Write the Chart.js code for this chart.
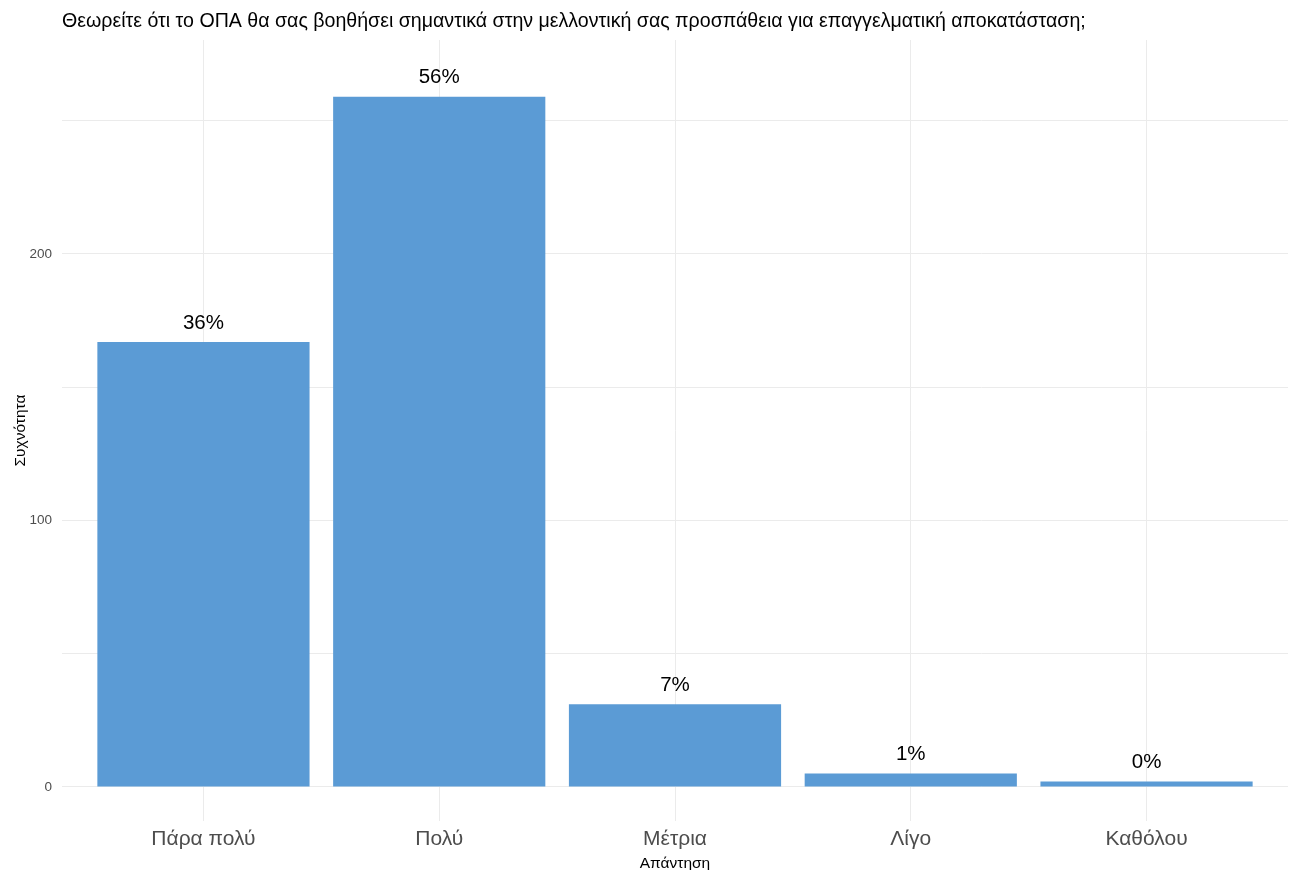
<!DOCTYPE html>
<html>
<head>
<meta charset="utf-8">
<script src="https://cdn.jsdelivr.net/npm/chart.js@4"></script>
<style>
  html, body { margin: 0; padding: 0; background: #ffffff; }
  #wrap { width: 1291px; height: 870px; }
</style>
</head>
<body>
<div id="wrap"><canvas id="c" width="1291" height="870"></canvas></div>
<script>
const titleText = "Θεωρείτε ότι το ΟΠΑ θα σας βοηθήσει σημαντικά στην μελλοντική σας προσπάθεια για επαγγελματική αποκατάσταση;";
const categories = ["Πάρα πολύ", "Πολύ", "Μέτρια", "Λίγο", "Καθόλου"];
const counts = [167, 259, 31, 5, 2];
const yTicks = [0, 50, 100, 150, 200, 250];
const yTickLabels = ["0", "", "100", "", "200", ""];
const xTitle = "Απάντηση";
const yTitle = "Συχνότητα";

const total = counts.reduce((a, b) => a + b, 0);
const FONT = "'Liberation Sans', Arial, sans-serif";

const titlePlugin = {
  id: 'ggTitle',
  afterDraw(chart) {
    const ctx = chart.ctx;
    ctx.save();
    ctx.font = "19.6px " + FONT;
    ctx.fillStyle = "#000000";
    ctx.textAlign = "left";
    ctx.textBaseline = "middle";
    ctx.fillText(titleText, chart.chartArea.left, 22);
    ctx.restore();
  }
};

const labelPlugin = {
  id: 'pctLabels',
  afterDatasetsDraw(chart) {
    const ctx = chart.ctx;
    const meta = chart.getDatasetMeta(0);
    ctx.save();
    ctx.font = "20.5px " + FONT;
    ctx.fillStyle = "#000000";
    ctx.textAlign = "center";
    ctx.textBaseline = "middle";
    meta.data.forEach((bar, i) => {
      const pct = Math.round(counts[i] / total * 100) + "%";
      ctx.fillText(pct, bar.x, bar.y - 19);
    });
    ctx.restore();
  }
};

new Chart(document.getElementById('c'), {
  type: 'bar',
  data: {
    datasets: [{
      data: counts.map((v, i) => ({ x: i + 1, y: v })),
      backgroundColor: '#5b9bd5',
      borderWidth: 0,
      barPercentage: 0.9,
      categoryPercentage: 1.0
    }]
  },
  options: {
    responsive: false,
    animation: false,
    devicePixelRatio: 1,
    layout: { padding: { top: 40, right: 3, left: 0, bottom: 0 } },
    plugins: {
      legend: { display: false },
      tooltip: { enabled: false }
    },
    scales: {
      x: {
        type: 'linear',
        offset: false,
        min: 0.4,
        max: 5.6,
        afterBuildTicks(scale) {
          scale.ticks = categories.map((_, i) => ({ value: i + 1 }));
        },
        afterFit(scale) { scale.height = 49; },
        border: { display: false },
        grid: { color: '#ebebeb', lineWidth: 1, drawTicks: false, offset: false },
        ticks: {
          autoSkip: false,
          maxRotation: 0,
          padding: 6,
          color: '#4d4d4d',
          font: { family: FONT, size: 21 },
          callback: (v) => categories[Math.round(v) - 1] ?? ''
        },
        title: {
          display: true,
          text: xTitle,
          color: '#000000',
          font: { family: FONT, size: 15.5 },
          padding: { top: 0, bottom: -3 }
        }
      },
      y: {
        min: -12.8,
        max: 280.3,
        afterBuildTicks(scale) {
          scale.ticks = yTicks.map(v => ({ value: v }));
        },
        afterFit(scale) { scale.width = 62; },
        border: { display: false },
        grid: { color: '#ebebeb', lineWidth: 1, drawTicks: false },
        ticks: {
          padding: 10,
          color: '#4d4d4d',
          font: { family: FONT, size: 13.5 },
          callback: (v) => {
            const i = yTicks.indexOf(v);
            return i >= 0 ? yTickLabels[i] : '';
          }
        },
        title: {
          display: true,
          text: yTitle,
          color: '#000000',
          font: { family: FONT, size: 15.5 },
          padding: { top: 11, bottom: 0 }
        }
      }
    }
  },
  plugins: [titlePlugin, labelPlugin]
});
</script>
</body>
</html>
